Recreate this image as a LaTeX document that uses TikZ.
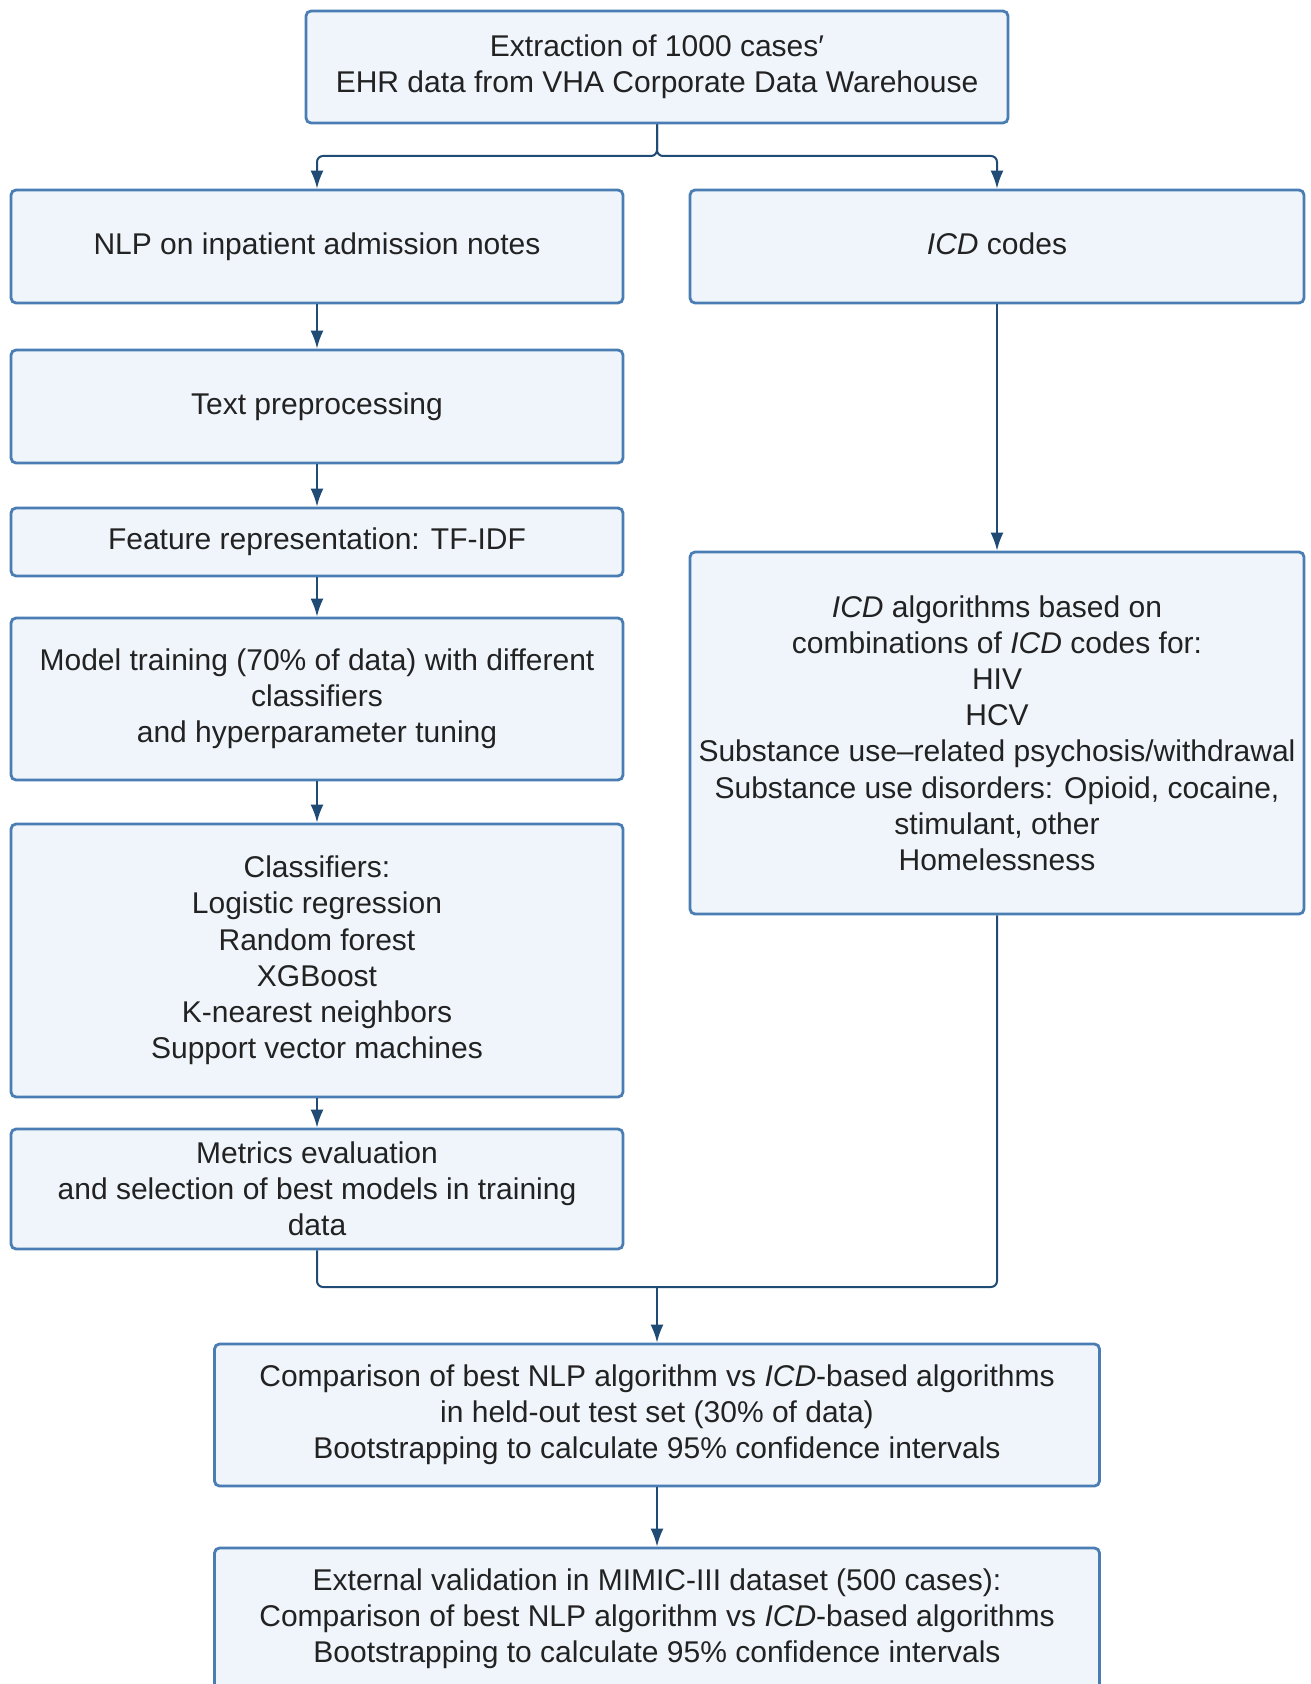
\documentclass[tikz,border=0pt]{standalone}
\usepackage{fontspec}
\setmainfont{Liberation Sans}
\usetikzlibrary{arrows.meta}
\definecolor{boxline}{HTML}{4A7DB3}
\definecolor{boxfill}{HTML}{EFF5FB}
\definecolor{arrowcol}{HTML}{1F4B75}
\definecolor{textcol}{HTML}{222222}
\tikzset{
	flowbox/.style={draw=boxline, fill=boxfill, line width=1.4pt, rounded corners=2.5pt, align=center, text=textcol, font=\fontsize{15}{18.1}\selectfont, inner sep=0pt},
	link/.style={draw=arrowcol, line width=1pt, rounded corners=3pt},
	flowarrow/.style={link, -{Latex[length=9pt,width=6.5pt]}}
}

\begin{document}
\begin{tikzpicture}[x=0.5pt,y=-0.5pt]
		%%%%% START %%%%%
		\useasboundingbox (0,0) rectangle (1310,1684);
		
		\node[flowbox, minimum width=351pt, minimum height=56pt] (extract) at (657,67) {Extraction of 1000 cases′\\EHR data from VHA Corporate Data Warehouse};
		
		% left column
		\node[flowbox, minimum width=306pt, minimum height=56.5pt] (nlp) at (317,246.5) {NLP on inpatient admission notes\vphantom{Ip}};
		\node[flowbox, minimum width=306pt, minimum height=56.5pt] (prep) at (317,406.5) {Text preprocessing\vphantom{Ip}};
		\node[flowbox, minimum width=306pt, minimum height=34pt] (feat) at (317,542) {Feature representation: TF-IDF\vphantom{Ip}};
		\node[flowbox, minimum width=306pt, minimum height=81pt] (train) at (317,699) {Model training (70\% of data) with different\\classifiers\\and hyperparameter tuning};
		\node[flowbox, minimum width=306pt, minimum height=136.5pt] (clf) at (317,960.5) {Classifiers:\\Logistic regression\\Random forest\\XGBoost\\K-nearest neighbors\\Support vector machines};
		\node[flowbox, minimum width=306pt, minimum height=60pt] (metr) at (317,1189) {Metrics evaluation\\and selection of best models in training\\data};
		
		% right column
		\node[flowbox, minimum width=307pt, minimum height=56.5pt] (icd) at (997,246.5) {\textit{ICD} codes\vphantom{Ip}};
		\node[flowbox, minimum width=307pt, minimum height=181pt] (alg) at (997,733) {\textit{ICD} algorithms based on\\combinations of \textit{ICD} codes for:\\HIV\\HCV\\Substance use--related psychosis/withdrawal\\Substance use disorders: Opioid, cocaine,\\stimulant, other\\Homelessness};
		
		% bottom
		\node[flowbox, minimum width=442.5pt, minimum height=71pt] (cmp) at (657,1415) {Comparison of best NLP algorithm vs \textit{ICD}-based algorithms\\in held-out test set (30\% of data)\\Bootstrapping to calculate 95\% confidence intervals};
		\node[flowbox, minimum width=442.5pt, minimum height=71pt] (ext) at (657,1619) {External validation in MIMIC-III dataset (500 cases):\\Comparison of best NLP algorithm vs \textit{ICD}-based algorithms\\Bootstrapping to calculate 95\% confidence intervals};
		
		% connectors
		\coordinate (fork) at (657,156);
		\draw[flowarrow] (extract.south) -- (fork) -| (nlp.north);
		\draw[flowarrow] (extract.south) -- (fork) -| (icd.north);
		
		\draw[flowarrow] (nlp.south) -- (prep.north);
		\draw[flowarrow] (prep.south) -- (feat.north);
		\draw[flowarrow] (feat.south) -- (train.north);
		\draw[flowarrow] (train.south) -- (clf.north);
		\draw[flowarrow] (clf.south) -- (metr.north);
		\draw[flowarrow] (icd.south) -- (alg.north);
		
		\coordinate (merge) at (657,1287);
		\draw[link] (metr.south) |- (merge);
		\draw[link] (alg.south) |- (merge);
		\draw[flowarrow] (merge) -- (cmp.north);
		\draw[flowarrow] (cmp.south) -- (ext.north);
		%%%%% END %%%%%
	\end{tikzpicture}
\end{document}
